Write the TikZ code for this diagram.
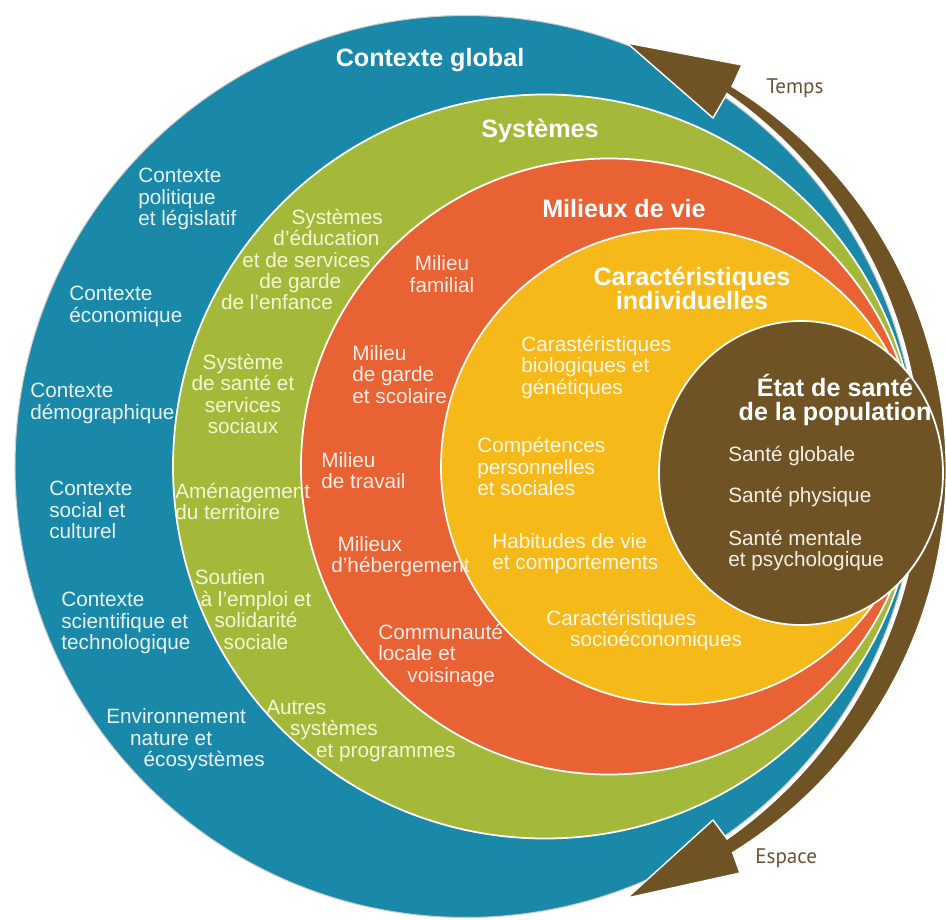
\documentclass[tikz,border=0pt]{standalone}
\usepackage{fontspec}
\setmainfont{Liberation Sans}
\newfontfamily\labelfont{PT Sans}
\definecolor{ctxblue}{HTML}{1A88A8}
\definecolor{sysgreen}{HTML}{A4B939}
\definecolor{milred}{HTML}{E96234}
\definecolor{indyellow}{HTML}{F6B91A}
\definecolor{popbrown}{HTML}{705325}
\definecolor{bluetext}{HTML}{E8F3F6}
\definecolor{greentext}{HTML}{F7F5D6}
\definecolor{redtext}{HTML}{FCEDE6}
\definecolor{yellowtext}{HTML}{FFF8E6}
\definecolor{browntext}{HTML}{F4EFE6}
\definecolor{dimtext}{HTML}{6B5234}
\newcommand{\pad}[1]{\hbox to #1{}}
\tikzset{
  ring/.style={draw=white, line width=1pt},
  ttl/.style={font=\fontsize{14.3}{13.6}\selectfont\bfseries, text=white, align=center, inner sep=0pt},
  txt/.style={font=\fontsize{11.8}{12.2}\selectfont, align=left, inner sep=0pt, anchor=west},
  side/.style={font=\labelfont\fontsize{12}{12}\selectfont, text=dimtext, inner sep=0pt, anchor=west},
}
\begin{document}
\begin{tikzpicture}
\useasboundingbox (0,0) rectangle (18.92,18.38);
% nested circles, all touching at the right
\fill[ctxblue, draw=black!20, line width=0.6pt] (9.32,9.05) circle (9.02);
\fill[sysgreen, ring] (10.90,9.05) circle (7.44);
\fill[milred, ring] (12.18,9.05) circle (6.16);
\fill[indyellow, ring] (13.58,9.05) circle (4.76);
% time / space arrow
\fill[popbrown, draw=white, line width=0.8pt] (12.54,17.52) -- (14.84,17.08) -- (14.64,16.65)
  arc[start angle=58.4, end angle=-58.3, radius=9] -- (14.80,0.92) -- (12.54,0.42)
  -- (14.26,1.98) -- (14.54,1.60) arc[start angle=-55, end angle=55, radius=9.1]
  -- (14.26,16.02) -- cycle;
\fill[popbrown, ring] (16.02,8.92) ellipse[x radius=2.84, y radius=3.04];
% titles
\node[ttl] (global) at (8.60,17.18) {Contexte global};
\node[ttl] (systemes) at (10.80,15.76) {Systèmes};
\node[ttl] (milieux) at (12.48,14.20) {Milieux de vie};
\node[ttl] (indiv) at (13.84,12.62) {Caractéristiques\\individuelles};
\node[ttl] (etat) at (16.70,10.38) {État de santé\\de la population};
% contexte global
\node[txt, text=bluetext] (politique) at (2.76,14.40) {Contexte\\politique\\et législatif};
\node[txt, text=bluetext] (economique) at (1.38,12.25) {Contexte\\économique};
\node[txt, text=bluetext] (demo) at (0.60,10.31) {Contexte\\démographique};
\node[txt, text=bluetext] (social) at (0.98,8.18) {Contexte\\social et\\culturel};
\node[txt, text=bluetext] (science) at (1.22,5.92) {Contexte\\scientifique et\\technologique};
\node[txt, text=bluetext] (environ) at (2.12,3.58) {Environnement\\\pad{1.15em}nature et\\\pad{1.8em}écosystèmes};
% systemes
\node[txt, text=greentext, anchor=east, align=right] (education) at (7.66,13.19)
  {Systèmes\\d’éducation\pad{0.15em}\\et de services\pad{0.6em}\\de garde\pad{2em}\\de l’enfance\pad{2.4em}};
\node[txt, text=greentext, anchor=center, align=center] (sante) at (4.86,10.50) {Système\\de santé et\\services\\sociaux};
\node[txt, text=greentext] (amenag) at (3.50,8.35) {Aménagement\\du territoire};
\node[txt, text=greentext, anchor=center, align=center] (soutien) at (5.12,6.19) {Soutien\pad{2.5em}\\à l’emploi et\\solidarité\\sociale};
\node[txt, text=greentext] (autres) at (5.32,3.76) {Autres\\\pad{1.15em}systèmes\\\pad{2.4em}et programmes};
% milieux de vie
\node[txt, text=redtext, anchor=center, align=center] (familial) at (8.84,12.90) {Milieu\\familial};
\node[txt, text=redtext] (garde) at (7.04,10.89) {Milieu\\de garde\\et scolaire};
\node[txt, text=redtext] (travail) at (6.42,8.97) {Milieu\\de travail};
\node[txt, text=redtext] (heberg) at (6.62,7.25) {\pad{0.3em}Milieux\\d’hébergement};
\node[txt, text=redtext] (commun) at (7.56,5.27) {Communauté\\locale et\\\pad{1.4em}voisinage};
% caracteristiques individuelles
\node[txt, text=yellowtext] (bio) at (10.42,11.03) {Carastéristiques\\biologiques et\\génétiques};
\node[txt, text=yellowtext] (compet) at (9.54,9.05) {Compétences\\personnelles\\et sociales};
\node[txt, text=yellowtext] (habit) at (9.84,7.31) {Habitudes de vie\\et comportements};
\node[txt, text=yellowtext] (socioeco) at (10.92,5.77) {Caractéristiques\\\pad{1.15em}socioéconomiques};
% etat de sante
\node[txt, text=browntext] (globale) at (14.56,9.26) {Santé globale};
\node[txt, text=browntext] (physique) at (14.56,8.44) {Santé physique};
\node[txt, text=browntext] (mentale) at (14.56,7.37) {Santé mentale\\et psychologique};
% arrow labels
\node[side] (temps) at (15.32,16.62) {Temps};
\node[side] (espace) at (15.10,1.22) {Espace};
\end{tikzpicture}
\end{document}
